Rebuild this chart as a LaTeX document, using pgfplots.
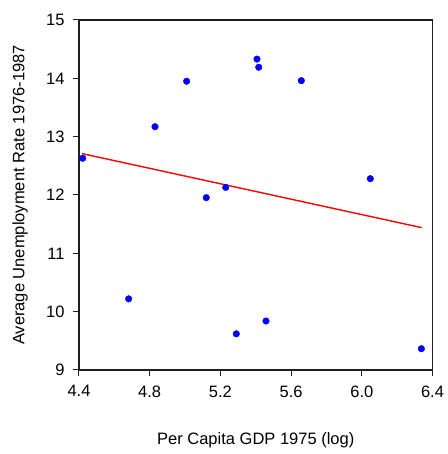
\documentclass[border=0pt]{standalone}
\usepackage{fontspec}
\setmainfont{Liberation Sans}
\usepackage{pgfplots}
\pgfplotsset{compat=1.18}
\definecolor{axisgray}{RGB}{30,30,30}

\begin{document}
\begin{tikzpicture}
\begin{axis}[
    at={(0,0)},
    scale only axis,
    width=353.5pt, height=350pt,
    xmin=4.4, xmax=6.4,
    ymin=9, ymax=15,
    xtick={4.4,4.8,5.2,5.6,6.0,6.4},
    ytick={9,10,11,12,13,14,15},
    xticklabel style={/pgf/number format/fixed, /pgf/number format/fixed zerofill, /pgf/number format/precision=1, yshift=-6pt},
    yticklabel style={xshift=-5pt},
    /pgf/number format/assume math mode=true,
    tick align=outside,
    tick pos=left,
    major tick length=6pt,
    major tick style={draw=axisgray, line width=1pt},
    axis line style={draw=axisgray, line width=1.2pt},
    tick label style={font=\fontsize{16.5}{20}\selectfont},
    xlabel={Per Capita GDP 1975 (log)},
    ylabel={Average Unemployment Rate 1976-1987},
    every axis x label/.style={at={(axis description cs:0.5,0)}, anchor=center, yshift=-70pt, font=\fontsize{16.5}{20}\selectfont},
    every axis y label/.style={at={(axis description cs:0,0.5)}, xshift=-59pt, rotate=90, anchor=center, font=\fontsize{16.5}{20}\selectfont},
    clip=false,
]
\addplot[only marks, mark=*, mark size=3.3pt, blue] coordinates {
    (4.421,12.63) (4.83,13.17) (5.009,13.95) (4.681,10.22) (5.12,11.955)
    (5.23,12.13) (5.29,9.62) (5.407,14.33) (5.417,14.19) (5.458,9.84)
    (5.658,13.96) (6.048,12.28) (6.337,9.365)
};
\addplot[red, line width=1.4pt] coordinates {(4.417,12.71) (6.339,11.44)};
\draw[axisgray, line width=1.2pt] (rel axis cs:0,0) -- (rel axis cs:1,0) -- (rel axis cs:1,1) -- (rel axis cs:0,1) -- (rel axis cs:0,0);
\end{axis}
\path (-79pt,-84pt) rectangle (368pt,370pt);
\end{tikzpicture}
\end{document}
